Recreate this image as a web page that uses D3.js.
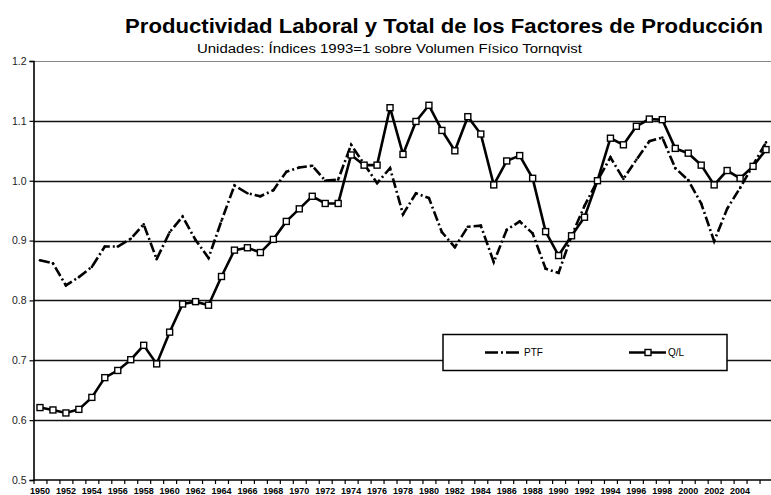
<!DOCTYPE html>
<html>
<head>
<meta charset="utf-8">
<script src="https://cdn.jsdelivr.net/npm/d3@7"></script>
<style>
  body { margin: 0; background: #fff; }
  svg { display: block; font-family: "Liberation Sans", Arial, sans-serif; }
</style>
</head>
<body>
<svg id="chart" width="771" height="495"></svg>
<script>
// categories
var years = [1950, 1951, 1952, 1953, 1954, 1955, 1956, 1957, 1958, 1959,
             1960, 1961, 1962, 1963, 1964, 1965, 1966, 1967, 1968, 1969,
             1970, 1971, 1972, 1973, 1974, 1975, 1976, 1977, 1978, 1979,
             1980, 1981, 1982, 1983, 1984, 1985, 1986, 1987, 1988, 1989,
             1990, 1991, 1992, 1993, 1994, 1995, 1996, 1997, 1998, 1999,
             2000, 2001, 2002, 2003, 2004, 2005, 2006];

// series values (indices 1993 = 1)
var ptf = [0.867, 0.862, 0.825, 0.839, 0.856, 0.890, 0.890, 0.903, 0.927, 0.869,
           0.914, 0.940, 0.901, 0.871, 0.933, 0.992, 0.979, 0.974, 0.984, 1.015,
           1.022, 1.025, 1.000, 1.002, 1.060, 1.028, 0.996, 1.021, 0.944, 0.979,
           0.971, 0.914, 0.889, 0.923, 0.925, 0.864, 0.918, 0.932, 0.912, 0.853,
           0.846, 0.908, 0.958, 1.000, 1.039, 1.003, 1.035, 1.066, 1.072, 1.021,
           1.001, 0.962, 0.899, 0.953, 0.988, 1.026, 1.064];

var ql = [0.621, 0.617, 0.612, 0.618, 0.638, 0.671, 0.683, 0.701, 0.725, 0.694,
          0.747, 0.794, 0.798, 0.792, 0.840, 0.884, 0.888, 0.880, 0.902, 0.932,
          0.953, 0.974, 0.962, 0.962, 1.043, 1.026, 1.026, 1.122, 1.044, 1.099,
          1.126, 1.084, 1.050, 1.107, 1.078, 0.993, 1.033, 1.042, 1.004, 0.915,
          0.875, 0.908, 0.939, 1.000, 1.071, 1.060, 1.091, 1.103, 1.102, 1.054,
          1.046, 1.026, 0.993, 1.017, 1.004, 1.024, 1.052];

// tick labels
var yTicks = [0.5, 0.6, 0.7, 0.8, 0.9, 1.0, 1.1, 1.2];
var xLabels = [1950, 1952, 1954, 1956, 1958, 1960, 1962, 1964, 1966, 1968,
               1970, 1972, 1974, 1976, 1978, 1980, 1982, 1984, 1986, 1988,
               1990, 1992, 1994, 1996, 1998, 2000, 2002, 2004];

var title = "Productividad Laboral y Total de los Factores de Producción";
var subtitle = "Unidades: Índices 1993=1 sobre Volumen Físico Tornqvist";

(function() {
    var svg = d3.select("#chart");

    var pLeft = 33.5, pRight = 772.5, pTop = 61, pBottom = 480;

    var x = d3.scaleBand()
        .domain(years)
        .range([pLeft, pRight]);

    var y = d3.scaleLinear()
        .domain([0.5, 1.2])
        .range([pBottom, pTop]);

    function cx(d, i) { return x(years[i]) + x.bandwidth() / 2; }

    // titles
    svg.append("text")
        .attr("x", 125)
        .attr("y", 33)
        .attr("font-size", 19.5)
        .attr("font-weight", "bold")
        .attr("fill", "#000")
        .attr("textLength", 638)
        .attr("lengthAdjust", "spacingAndGlyphs")
        .text(title);

    svg.append("text")
        .attr("x", 197)
        .attr("y", 53)
        .attr("font-size", 12)
        .attr("fill", "#000")
        .attr("textLength", 385)
        .attr("lengthAdjust", "spacingAndGlyphs")
        .text(subtitle);

    // gridlines
    svg.append("g")
        .selectAll("line")
        .data(yTicks.filter(function(d) { return d > 0.5; }))
        .enter().append("line")
        .attr("x1", pLeft)
        .attr("x2", pRight)
        .attr("y1", function(d) { return Math.round(y(d)) + 0.5; })
        .attr("y2", function(d) { return Math.round(y(d)) + 0.5; })
        .attr("stroke", function(d) { return d === 1.2 ? "#888" : "#111"; })
        .attr("stroke-width", function(d) { return d === 1.2 ? 1 : 1.6; });

    // y axis
    var yAxis = d3.axisLeft(y)
        .tickValues(yTicks)
        .tickSize(4)
        .tickFormat(d3.format(".1f"));

    var gy = svg.append("g")
        .attr("transform", "translate(" + pLeft + ",0)")
        .call(yAxis);
    gy.select(".domain").attr("stroke", "#000").attr("stroke-width", 1.6);
    gy.selectAll(".tick line").attr("stroke", "#000").attr("stroke-width", 1.2);
    gy.selectAll(".tick text")
        .attr("font-size", 10.5)
        .attr("fill", "#222")
        .attr("font-family", "Liberation Sans, Arial, sans-serif")
        .attr("x", -7);

    // x axis: ticks at band boundaries
    var gx = svg.append("g");
    gx.append("line")
        .attr("x1", pLeft)
        .attr("x2", pRight)
        .attr("y1", pBottom)
        .attr("y2", pBottom)
        .attr("stroke", "#000")
        .attr("stroke-width", 1.6);

    gx.selectAll("line.tk")
        .data(years)
        .enter().append("line")
        .attr("class", "tk")
        .attr("x1", function(d) { return x(d) + 0.5; })
        .attr("x2", function(d) { return x(d) + 0.5; })
        .attr("y1", pBottom)
        .attr("y2", pBottom + 4)
        .attr("stroke", "#000")
        .attr("stroke-width", 1.2);

    gx.selectAll("text")
        .data(xLabels)
        .enter().append("text")
        .attr("x", function(d) { return x(d) + x.bandwidth() / 2; })
        .attr("y", 494)
        .attr("text-anchor", "middle")
        .attr("font-size", 9)
        .attr("font-weight", "bold")
        .attr("fill", "#000")
        .text(function(d) { return d; });

    // series lines
    var line = d3.line()
        .x(cx)
        .y(function(d) { return y(d); });

    svg.append("path")
        .datum(ptf)
        .attr("d", line)
        .attr("fill", "none")
        .attr("stroke", "#000")
        .attr("stroke-width", 2.6)
        .attr("stroke-dasharray", "10,3,2,3");

    svg.append("g")
        .selectAll("circle")
        .data(ptf)
        .enter().append("circle")
        .attr("cx", cx)
        .attr("cy", function(d) { return y(d); })
        .attr("r", 1.3)
        .attr("fill", "#000");

    svg.append("path")
        .datum(ql)
        .attr("d", line)
        .attr("fill", "none")
        .attr("stroke", "#000")
        .attr("stroke-width", 2.6);

    svg.append("g")
        .selectAll("rect")
        .data(ql)
        .enter().append("rect")
        .attr("x", function(d, i) { return cx(d, i) - 3; })
        .attr("y", function(d) { return y(d) - 3; })
        .attr("width", 6)
        .attr("height", 6)
        .attr("fill", "#fff")
        .attr("stroke", "#000")
        .attr("stroke-width", 1.4);

    // legend
    var lg = svg.append("g");
    lg.append("rect")
        .attr("x", 443)
        .attr("y", 334.5)
        .attr("width", 284)
        .attr("height", 36)
        .attr("fill", "#fff")
        .attr("stroke", "#000")
        .attr("stroke-width", 1.5);

    var ly = 352.5;
    lg.append("line")
        .attr("x1", 485).attr("x2", 521)
        .attr("y1", ly).attr("y2", ly)
        .attr("stroke", "#000")
        .attr("stroke-width", 2.6)
        .attr("stroke-dasharray", "13,3,2,3");
    lg.append("text")
        .attr("x", 524).attr("y", ly + 3.5)
        .attr("font-size", 10)
        .text("PTF");

    lg.append("line")
        .attr("x1", 629).attr("x2", 666)
        .attr("y1", ly).attr("y2", ly)
        .attr("stroke", "#000")
        .attr("stroke-width", 2.6);
    lg.append("rect")
        .attr("x", 645).attr("y", ly - 3)
        .attr("width", 6).attr("height", 6)
        .attr("fill", "#fff")
        .attr("stroke", "#000")
        .attr("stroke-width", 1.4);
    lg.append("text")
        .attr("x", 668).attr("y", ly + 3.5)
        .attr("font-size", 10)
        .text("Q/L");
})();
</script>
</body>
</html>
